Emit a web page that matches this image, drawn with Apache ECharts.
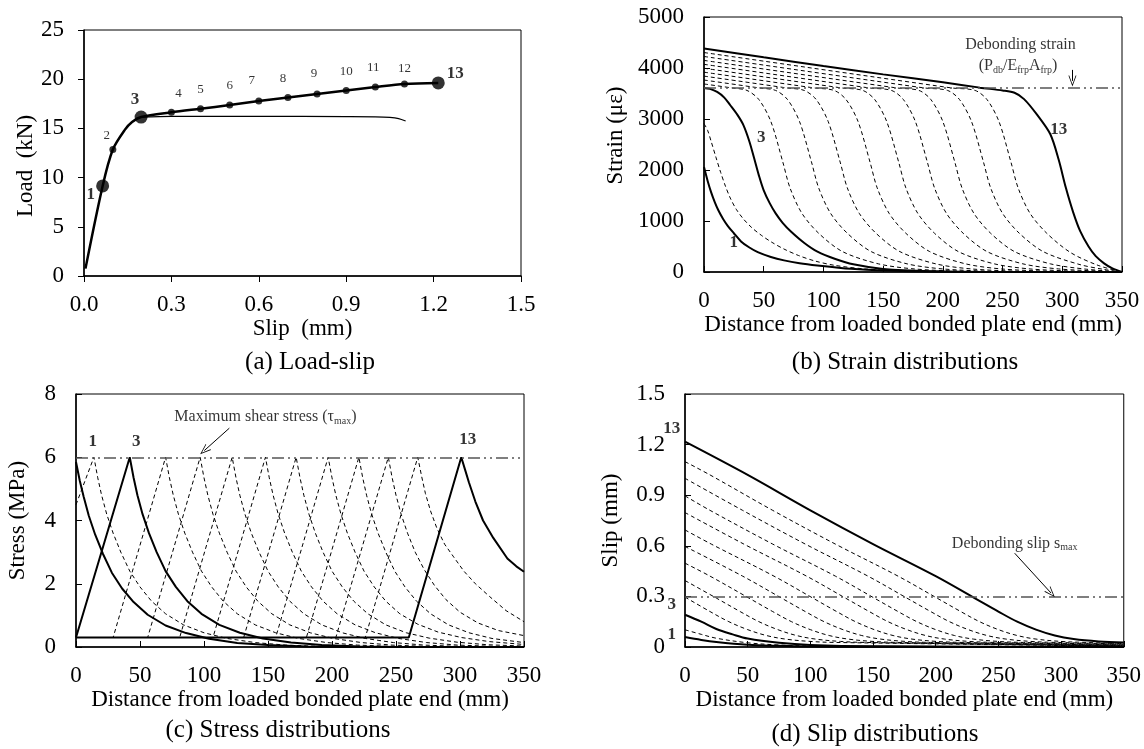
<!DOCTYPE html>
<html>
<head>
<meta charset="utf-8">
<title>Load-slip, strain, stress and slip distributions</title>
<script src="https://cdn.jsdelivr.net/npm/echarts@6/dist/echarts.min.js"></script>
<style>
html, body { margin: 0; padding: 0; background: #fff; }
#main { width: 1144px; height: 749px; }
</style>
</head>
<body>
<div id="main"></div>
<script>
var FONT = "'Liberation Serif', 'Times New Roman', serif";

// (a) load-slip curve
var slipCurve = [0.005, 0.064, 0.099, 0.14, 0.165, 0.196, 0.3, 0.4, 0.5, 0.6, 0.7, 0.8, 0.9, 1.0, 1.1, 1.216];
var loadCurve = [0.75, 9.15, 12.85, 14.85, 15.65, 16.15, 16.63, 17.0, 17.37, 17.78, 18.15, 18.5, 18.86, 19.2, 19.5, 19.62];
// numbered load stages
var stageNames = ['1', '2', '3', '4', '5', '6', '7', '8', '9', '10', '11', '12', '13'];
var stageSlip = [0.064, 0.099, 0.196, 0.3, 0.4, 0.5, 0.6, 0.7, 0.8, 0.9, 1.0, 1.1, 1.216];
var stageLoad = [9.15, 12.85, 16.15, 16.63, 17.0, 17.37, 17.78, 18.15, 18.5, 18.86, 19.2, 19.5, 19.62];
var bigStages = ['1', '3', '13'];
// thin branch leaving stage 3
var branchSlip = [0.196, 0.3, 0.6, 0.9, 1.0, 1.05, 1.08, 1.104];
var branchLoad = [16.15, 16.22, 16.22, 16.2, 16.18, 16.12, 16.0, 15.75];

// (b) strain distributions, stages 1..13, [distance mm, strain]
var strainCurves = [
  [[0,2057],[3,1790],[6,1560],[9,1370],[12,1210],[16,1040],[20,900],[25,760],[31,600],[38,480],[45,390],[56,295],[67,228],[80,172],[95,128],[123,62],[150,28],[200,6],[260,0],[350,0]],
  [[0,2910],[3,2780],[6,2560],[10,2250],[14,1950],[18,1680],[22,1450],[27,1230],[33,1040],[40,870],[48,720],[57,580],[67,450],[79,325],[93,215],[110,128],[135,60],[170,20],[230,0],[350,0]],
  [[0,3610],[5,3590],[11,3530],[17,3420],[22,3270],[28,3080],[33,2880],[38,2560],[42,2230],[46,1890],[50,1600],[55,1350],[60,1150],[66,960],[73,790],[84,570],[95,400],[110,255],[125,150],[150,60],[190,15],[250,0],[350,0]],
  [[0,3687],[23,3610],[36,3560],[46,3380],[56,2950],[66,2156],[72,1650],[82,1150],[96,760],[116,400],[146,160],[176,60],[216,15],[270,0],[350,0]],
  [[0,3764],[46,3610],[60,3560],[70,3380],[80,2950],[90,2156],[96,1650],[106,1150],[120,760],[140,400],[170,160],[200,60],[240,15],[290,0],[350,0]],
  [[0,3841],[69,3610],[84,3560],[94,3380],[104,2950],[114,2156],[120,1650],[130,1150],[144,760],[164,400],[194,160],[224,60],[264,15],[310,0],[350,0]],
  [[0,3918],[92,3610],[109,3560],[119,3380],[129,2950],[139,2156],[145,1650],[155,1150],[169,760],[189,400],[219,160],[249,60],[289,15],[330,0],[350,0]],
  [[0,3995],[115,3610],[133,3560],[143,3380],[153,2950],[163,2156],[169,1650],[179,1150],[193,760],[213,400],[243,160],[273,60],[313,15],[350,0]],
  [[0,4072],[138,3610],[157,3560],[167,3380],[177,2950],[187,2156],[193,1650],[203,1150],[217,760],[237,400],[267,160],[297,60],[337,12],[350,0]],
  [[0,4149],[161,3610],[180,3560],[190,3380],[200,2950],[210,2156],[216,1650],[226,1150],[240,760],[260,400],[290,160],[320,55],[350,0]],
  [[0,4226],[184,3610],[204,3560],[214,3380],[224,2950],[234,2156],[240,1650],[250,1150],[264,760],[284,400],[314,150],[335,50],[350,0]],
  [[0,4303],[207,3610],[227,3560],[237,3380],[247,2950],[257,2156],[263,1650],[273,1150],[287,760],[307,380],[330,130],[350,0]],
  [[0,4382],[50,4210],[100,4040],[150,3875],[200,3720],[231,3615],[250,3560],[260,3515],[268,3390],[279,3080],[290,2700],[297,2200],[303,1650],[309,1180],[315,800],[322,500],[328,310],[335,170],[342,70],[350,0]]
];

// (c) shear stress distributions, [distance mm, stress MPa]
var stressCurves = [
  [[0,5.85],[3,5.25],[6,4.75],[10,4.15],[15,3.55],[21,2.95],[28,2.35],[36,1.85],[45,1.42],[56,1.02],[70,0.68],[86,0.44],[104,0.26],[126,0.13],[150,0.06],[180,0.015],[210,0],[350,0]],
  [[0,4.5],[14,6],[17,5.35],[20,4.8],[24,4.2],[29,3.6],[35,3.0],[42,2.4],[50,1.9],[59,1.45],[70,1.05],[84,0.7],[100,0.45],[118,0.27],[140,0.14],[164,0.06],[194,0.015],[224,0],[350,0]],
  [[0,0.3],[42,6],[45,5.35],[48,4.8],[52,4.2],[57,3.6],[63,3.0],[70,2.4],[78,1.9],[87,1.45],[98,1.05],[112,0.7],[128,0.45],[146,0.27],[168,0.14],[192,0.06],[222,0.015],[252,0],[350,0]],
  [[0,0.3],[29,0.3],[70,6],[73,5.35],[76,4.8],[80,4.2],[85,3.6],[91,3.0],[98,2.4],[106,1.9],[115,1.45],[126,1.05],[140,0.7],[156,0.45],[174,0.27],[196,0.14],[220,0.06],[250,0.015],[280,0],[350,0]],
  [[0,0.3],[56,0.3],[97,6],[100,5.35],[103,4.8],[107,4.2],[112,3.6],[118,3.0],[125,2.4],[133,1.9],[142,1.45],[153,1.05],[167,0.7],[183,0.45],[201,0.27],[223,0.14],[247,0.06],[277,0.015],[307,0],[350,0]],
  [[0,0.3],[81,0.3],[122,6],[125,5.35],[128,4.8],[132,4.2],[137,3.6],[143,3.0],[150,2.4],[158,1.9],[167,1.45],[178,1.05],[192,0.7],[208,0.45],[226,0.27],[248,0.14],[272,0.06],[302,0.015],[332,0],[350,0]],
  [[0,0.3],[107,0.3],[148,6],[151,5.35],[154,4.8],[158,4.2],[163,3.6],[169,3.0],[176,2.4],[184,1.9],[193,1.45],[204,1.05],[218,0.7],[234,0.45],[252,0.27],[274,0.14],[298,0.06],[328,0.02],[350,0.01]],
  [[0,0.3],[131,0.3],[172,6],[175,5.35],[178,4.8],[182,4.2],[187,3.6],[193,3.0],[200,2.4],[208,1.9],[217,1.45],[228,1.05],[242,0.7],[258,0.45],[276,0.28],[298,0.15],[322,0.07],[350,0.03]],
  [[0,0.3],[156,0.3],[197,6],[200,5.35],[203,4.8],[207,4.2],[212,3.6],[218,3.0],[225,2.4],[233,1.9],[242,1.45],[253,1.05],[267,0.72],[283,0.47],[301,0.3],[323,0.17],[350,0.08]],
  [[0,0.3],[180,0.3],[221,6],[224,5.35],[227,4.8],[231,4.2],[236,3.6],[242,3.0],[249,2.4],[257,1.9],[266,1.45],[277,1.05],[291,0.7],[307,0.45],[325,0.27],[350,0.14]],
  [[0,0.3],[203,0.3],[244,6],[247,5.35],[250,4.8],[254,4.2],[259,3.6],[265,3.0],[272,2.45],[280,1.95],[289,1.5],[300,1.1],[314,0.76],[330,0.52],[350,0.36]],
  [[0,0.3],[226,0.3],[267,6],[270,5.4],[273,4.85],[277,4.3],[282,3.75],[288,3.25],[295,2.85],[303,2.4],[312,2.0],[323,1.6],[336,1.15],[350,0.8]],
  [[0,0.3],[260,0.3],[301,6],[304,5.6],[307,5.2],[312,4.6],[318,4.0],[326,3.45],[337,2.8],[344,2.55],[350,2.38]]
];

// (d) slip distributions, [distance mm, slip mm]
var slipCurves = [
  [[0,0.059],[13,0.042],[25,0.03],[50,0.014],[75,0.007],[100,0.003],[150,0.001],[350,0]],
  [[0,0.102],[13,0.075],[25,0.052],[50,0.025],[75,0.012],[100,0.006],[150,0.002],[350,0]],
  [[0,0.191],[13,0.15],[25,0.107],[38,0.075],[50,0.05],[75,0.025],[100,0.012],[150,0.004],[350,0]],
  [[0,0.296],[20,0.21],[35,0.15],[50,0.103],[65,0.068],[80,0.047],[100,0.033],[120,0.027],[350,0.004]],
  [[0,0.394],[25,0.29],[44,0.21],[59,0.15],[74,0.103],[89,0.068],[104,0.047],[124,0.033],[144,0.027],[350,0.005]],
  [[0,0.497],[20,0.42],[51,0.29],[70,0.21],[85,0.15],[100,0.103],[115,0.068],[130,0.047],[150,0.033],[170,0.027],[350,0.006]],
  [[0,0.596],[46,0.42],[77,0.29],[96,0.21],[111,0.15],[126,0.103],[141,0.068],[156,0.047],[176,0.033],[196,0.027],[350,0.008]],
  [[0,0.694],[21,0.61],[71,0.42],[102,0.29],[121,0.21],[136,0.15],[151,0.103],[166,0.068],[181,0.047],[201,0.033],[221,0.027],[350,0.01]],
  [[0,0.797],[47,0.61],[97,0.42],[128,0.29],[147,0.21],[162,0.15],[177,0.103],[192,0.068],[207,0.047],[227,0.033],[247,0.027],[350,0.012]],
  [[0,0.896],[20,0.81],[70,0.61],[120,0.42],[151,0.29],[170,0.21],[185,0.15],[200,0.103],[215,0.068],[230,0.047],[250,0.033],[270,0.027],[350,0.015]],
  [[0,1.0],[46,0.81],[96,0.61],[146,0.42],[177,0.29],[196,0.21],[211,0.15],[226,0.103],[241,0.068],[256,0.047],[276,0.033],[296,0.027],[350,0.018]],
  [[0,1.099],[20,1.02],[70,0.81],[120,0.61],[170,0.42],[201,0.29],[220,0.21],[235,0.15],[250,0.103],[265,0.068],[280,0.047],[300,0.033],[320,0.027],[350,0.02]],
  [[0,1.217],[50,1.02],[100,0.81],[150,0.61],[200,0.42],[231,0.29],[250,0.21],[265,0.15],[280,0.103],[295,0.068],[310,0.047],[330,0.033],[350,0.027]]
];
var solidCurves = [0, 2, 12];   // stages 1, 3 and 13 drawn solid

// limits drawn as dash-dot lines
var debondStrain = 3610;
var tauMax = 6;
var sMax = 0.3;

// stage tags and notes, in data coordinates
var tagNames = ['1', '3', '13'];
var strainTags = [[25, 580], [48, 2630], [297, 2790]];
var stressTags = [[13, 6.5], [47, 6.5], [306, 6.55]];
var slipTags = [[-10.6, 0.073], [-10.6, 0.25], [-10.6, 1.297]];

var strainNotes = ['Debonding strain', '(P{sub|db}/E{sub|frp}A{sub|frp})'];
var strainNotePos = [[265, 4455], [263, 4040]];
var strainArrow = [[308.5, 3963], [308.5, 3747]];
var stressNotes = ['Maximum shear stress (\u03c4{sub|max})'];
var stressNotePos = [[148, 7.27]];
var stressArrow = [[119.8, 6.92], [100.2, 6.21]];
var slipNotes = ['Debonding slip s{sub|max}'];
var slipNotePos = [[263, 0.612]];
var slipArrow = [[263, 0.556], [292, 0.32]];

// label offsets (px) for the stage numbers in (a)
var stageOffsets = [[-12, 9], [-6, -14], [-6, -17], [7, -19], [0, -19], [0, -20], [-7, -20], [-5, -19], [-3, -20], [0, -19], [-2, -19], [0, -16], [17, -9]];

var ARROW = 'path://M0,10 L5,0 L10,10 L9,10 L5,2 L1,10 Z';

function plain(v) { return String(v); }

function makeX(gi, min, max, step, name, inward, fmt) {
  return {
    gridIndex: gi, type: 'value', min: min, max: max, interval: step,
    name: name, nameLocation: 'middle', nameGap: 41,
    nameTextStyle: { fontFamily: FONT, fontSize: 23, color: '#000' },
    axisLine: { show: true, onZero: false, lineStyle: { color: '#000', width: 1.5 } },
    axisTick: { show: true, inside: inward, length: 6, lineStyle: { color: '#000', width: 1 } },
    axisLabel: { margin: 17, fontFamily: FONT, fontSize: 23, color: '#000', formatter: fmt || plain },
    splitLine: { show: false }
  };
}

function makeY(gi, min, max, step, name, gap, inward, fmt, pad) {
  return {
    gridIndex: gi, type: 'value', min: min, max: max, interval: step,
    name: name, nameLocation: 'middle', nameGap: gap,
    nameTextStyle: { fontFamily: FONT, fontSize: 23, color: '#000', padding: pad || 0 },
    axisLine: { show: true, onZero: false, lineStyle: { color: '#000', width: 1.5 } },
    axisTick: { show: true, inside: inward, length: 6, lineStyle: { color: '#000', width: 1 } },
    axisLabel: { margin: 20, fontFamily: FONT, fontSize: 23, color: '#000', formatter: fmt || plain },
    splitLine: { show: false }
  };
}

function curveSeries(gi, curves, smooth, limit) {
  var out = [];
  curves.forEach(function (pts, i) {
    var solid = solidCurves.indexOf(i) >= 0;
    var s = {
      type: 'line', xAxisIndex: gi, yAxisIndex: gi, data: pts,
      smooth: smooth, symbol: 'none', silent: true, z: solid ? 4 : 3,
      lineStyle: solid ? { color: '#000', width: 2 } : { color: '#000', width: 1, type: [4, 3] }
    };
    if (i === 0) {
      s.markLine = {
        silent: true, symbol: 'none', animation: false, label: { show: false },
        lineStyle: { color: '#555', width: 1.5, type: [12, 4, 2, 4, 2, 4] },
        data: [{ yAxis: limit }]
      };
    }
    out.push(s);
  });
  return out;
}

function tagSeries(gi, pts, names) {
  return {
    type: 'scatter', xAxisIndex: gi, yAxisIndex: gi, symbol: 'circle', symbolSize: 1,
    clip: false, silent: true, z: 6, itemStyle: { color: 'rgba(0,0,0,0)' },
    data: pts.map(function (p, i) { return { value: p, label: { formatter: names[i] } }; }),
    label: { show: true, position: 'inside', color: '#000', fontFamily: FONT, fontSize: 17, fontWeight: 'bold' }
  };
}

function noteSeries(gi, pts, texts, arrow) {
  return {
    type: 'scatter', xAxisIndex: gi, yAxisIndex: gi, symbol: 'circle', symbolSize: 1,
    clip: false, silent: true, z: 6, itemStyle: { color: 'rgba(0,0,0,0)' },
    data: pts.map(function (p, i) { return { value: p, label: { formatter: texts[i] } }; }),
    label: {
      show: true, position: 'inside', color: '#000', fontFamily: FONT, fontSize: 16,
      rich: { sub: { fontFamily: FONT, fontSize: 10, color: '#000', padding: [8, 0, 0, 0] } }
    },
    markLine: {
      silent: true, animation: false, symbol: ['none', ARROW], symbolSize: [8, 11],
      label: { show: false }, lineStyle: { color: '#000', width: 1, type: 'solid' },
      data: [[{ coord: arrow[0] }, { coord: arrow[1] }]]
    }
  };
}

var chart = echarts.init(document.getElementById('main'));

var series = [];
// (a)
series.push({
  type: 'line', xAxisIndex: 0, yAxisIndex: 0, smooth: 0.3, symbol: 'none', silent: true, z: 3,
  data: slipCurve.map(function (s, i) { return [s, loadCurve[i]]; }),
  lineStyle: { color: '#000', width: 2.5 }
});
series.push({
  type: 'line', xAxisIndex: 0, yAxisIndex: 0, smooth: 0.3, symbol: 'none', silent: true, z: 2,
  data: branchSlip.map(function (s, i) { return [s, branchLoad[i]]; }),
  lineStyle: { color: '#000', width: 1.2 }
});
series.push({
  type: 'scatter', xAxisIndex: 0, yAxisIndex: 0, silent: true, z: 5,
  itemStyle: { color: '#000' },
  label: { show: true, position: 'inside', color: '#000', fontFamily: FONT },
  data: stageSlip.map(function (s, i) {
    var big = bigStages.indexOf(stageNames[i]) >= 0;
    return {
      value: [s, stageLoad[i]], symbolSize: big ? 13 : 7,
      label: { formatter: stageNames[i], offset: stageOffsets[i], fontSize: big ? 17 : 13, fontWeight: big ? 'bold' : 'normal' }
    };
  })
});
// (b), (c), (d)
series = series.concat(curveSeries(1, strainCurves, 0.3, debondStrain));
series = series.concat(curveSeries(2, stressCurves, false, tauMax));
series = series.concat(curveSeries(3, slipCurves, 0.35, sMax));
series.push(tagSeries(1, strainTags, tagNames));
series.push(tagSeries(2, stressTags, tagNames));
series.push(tagSeries(3, slipTags, tagNames));
series.push(noteSeries(1, strainNotePos, strainNotes, strainArrow));
series.push(noteSeries(2, stressNotePos, stressNotes, stressArrow));
series.push(noteSeries(3, slipNotePos, slipNotes, slipArrow));

function title(x, y, text) {
  return {
    type: 'text', x: x, y: y, silent: true,
    style: { text: text, fontFamily: FONT, fontSize: 25, fill: '#000', align: 'center', verticalAlign: 'middle' }
  };
}

var gridStyle = { show: true, borderColor: '#000', borderWidth: 1, backgroundColor: 'transparent' };
var one = function (v) { return v.toFixed(1); };
var slipFmt = function (v) { return v === 0 ? '0' : v.toFixed(1); };

chart.setOption({
  animation: false,
  backgroundColor: '#fff',
  textStyle: { fontFamily: FONT },
  grid: [
    Object.assign({ left: 84, top: 30, width: 437, height: 246 }, gridStyle),
    Object.assign({ left: 704, top: 17, width: 418, height: 255 }, gridStyle),
    Object.assign({ left: 76, top: 394, width: 448, height: 253 }, gridStyle),
    Object.assign({ left: 685, top: 394, width: 439, height: 253 }, gridStyle)
  ],
  xAxis: [
    makeX(0, 0, 1.5, 0.3, 'Slip  (mm)', false, one),
    makeX(1, 0, 350, 50, 'Distance from loaded bonded plate end (mm)', true),
    makeX(2, 0, 350, 50, 'Distance from loaded bonded plate end (mm)', true),
    makeX(3, 0, 350, 50, 'Distance from loaded bonded plate end (mm)', true)
  ],
  yAxis: [
    makeY(0, 0, 25, 5, 'Load  (kN)', 47, false, null, [0, 26, 0, 0]),
    makeY(1, 0, 5000, 1000, 'Strain (\u03bc\u03b5)', 77, true, null, [0, 0, 0, 18]),
    makeY(2, 0, 8, 2, 'Stress (MPa)', 47, true),
    makeY(3, 0, 1.5, 0.3, 'Slip (mm)', 63, true, slipFmt)
  ],
  graphic: [
    title(310, 362, '(a) Load-slip'),
    title(905, 362, '(b) Strain distributions'),
    title(278, 730, '(c) Stress distributions'),
    title(875, 734, '(d) Slip distributions')
  ],
  series: series
});
</script>
</body>
</html>
